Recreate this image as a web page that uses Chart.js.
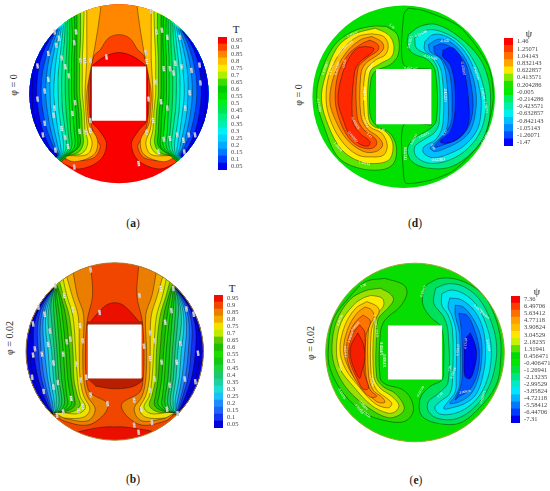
<!DOCTYPE html>
<html>
<head>
<meta charset="utf-8">
<style>
  body { margin: 0; background: #fff; width: 550px; height: 491px; position: relative; overflow: hidden; font-family: 'Liberation Serif', serif; color: #222; }
  canvas { position: absolute; }
  .txt { position: absolute; white-space: nowrap; transform: translate(-50%, -50%); }
  .phi { font-size: 10px; transform: translate(-50%, -50%) rotate(-90deg); }
  .cap { font-size: 11.5px; }
  .ttl { font-size: 11px; }
</style>
<script src="https://cdn.jsdelivr.net/npm/chart.js@4"></script>
</head>
<body>
<canvas id="plotA"></canvas><canvas id="plotD"></canvas><canvas id="plotB"></canvas><canvas id="plotE"></canvas>
<canvas id="barA"></canvas><canvas id="barD"></canvas><canvas id="barB"></canvas><canvas id="barE"></canvas>
<div class="txt phi" style="left:13px;top:85px">φ = 0</div>
<div class="txt phi" style="left:298px;top:95px">φ = 0</div>
<div class="txt phi" style="left:9px;top:338px">φ = 0.02</div>
<div class="txt phi" style="left:310px;top:343px">φ = 0.02</div>
<div class="txt cap" style="left:133px;top:223px">(<b>a</b>)</div>
<div class="txt cap" style="left:415px;top:223px">(<b>d</b>)</div>
<div class="txt cap" style="left:133px;top:479px">(<b>b</b>)</div>
<div class="txt cap" style="left:416px;top:480px">(<b>e</b>)</div>
<div class="txt ttl" style="left:236px;top:29px">T</div>
<div class="txt ttl" style="left:529px;top:33px;font-size:10px">ψ</div>
<div class="txt ttl" style="left:232px;top:288px">T</div>
<div class="txt ttl" style="left:537px;top:291px;font-size:10px">ψ</div>
<script>
// contour coordinates: disc radius = 100, centre = 0, y up
const ticksT = ['0.95','0.9','0.85','0.8','0.75','0.7','0.65','0.6','0.55','0.5','0.45','0.4','0.35','0.3','0.25','0.2','0.15','0.1','0.05'];
const ticksD = ['1.46','1.25071','1.04143','0.832143','0.622857','0.413571','0.204286','-0.005','-0.214286','-0.423571','-0.632857','-0.842143','-1.05143','-1.26071','-1.47'];
const ticksE = ['7.36','6.49706','5.63412','4.77118','3.90824','3.04529','2.18235','1.31941','0.456471','-0.406471','-1.26941','-2.13235','-2.99529','-3.85824','-4.72118','-5.58412','-6.44706','-7.31'];

const colorsA = ['rgb(250,0,0)','rgb(255,65,0)','rgb(255,135,0)','rgb(255,190,0)','rgb(250,235,0)','rgb(170,240,0)','rgb(60,220,0)','rgb(0,205,0)','rgb(0,225,0)','rgb(0,240,30)','rgb(0,230,80)','rgb(0,240,130)','rgb(0,240,180)','rgb(0,240,240)','rgb(0,210,255)','rgb(0,170,255)','rgb(0,120,255)','rgb(0,60,255)','rgb(0,0,235)'];
const colorsB = ['rgb(235,15,0)','rgb(240,70,0)','rgb(235,125,0)','rgb(240,170,0)','rgb(240,225,0)','rgb(190,235,0)','rgb(90,200,0)','rgb(30,190,0)','rgb(30,220,0)','rgb(20,200,20)','rgb(30,210,60)','rgb(30,200,110)','rgb(30,210,160)','rgb(30,220,210)','rgb(30,190,250)','rgb(30,140,250)','rgb(30,100,250)','rgb(20,50,240)','rgb(0,0,220)'];
const colorsD = ['rgb(255,0,0)','rgb(255,55,0)','rgb(255,110,0)','rgb(255,165,0)','rgb(255,230,0)','rgb(130,235,0)','rgb(30,225,0)','rgb(0,235,0)','rgb(0,240,100)','rgb(0,240,170)','rgb(0,240,240)','rgb(0,190,255)','rgb(0,140,255)','rgb(0,80,255)','rgb(0,0,255)'];
const colorsE = ['rgb(250,0,0)','rgb(255,60,0)','rgb(255,110,0)','rgb(255,160,0)','rgb(255,190,0)','rgb(255,230,0)','rgb(200,240,0)','rgb(90,225,0)','rgb(0,220,0)','rgb(0,230,0)','rgb(0,225,60)','rgb(0,230,130)','rgb(0,235,200)','rgb(0,230,255)','rgb(0,180,255)','rgb(0,120,255)','rgb(0,60,255)','rgb(0,0,240)'];

const lobeFillD = ['rgb(90,230,0)','rgb(255,235,0)','rgb(255,190,0)','rgb(255,135,0)','rgb(255,80,0)','rgb(255,40,0)'];
const cellFillD = ['rgb(0,235,130)','rgb(0,240,225)','rgb(0,190,255)','rgb(0,140,255)','rgb(0,85,255)','rgb(0,25,255)'];
const lobeFillE = ['rgb(50,215,0)','rgb(150,225,0)','rgb(250,235,0)','rgb(255,195,0)','rgb(255,155,0)','rgb(255,115,0)','rgb(255,70,0)','rgb(245,30,0)'];
const cellFillE = ['rgb(0,225,90)','rgb(0,230,170)','rgb(0,235,240)','rgb(0,190,255)','rgb(0,140,255)','rgb(0,85,255)','rgb(0,10,240)'];

// panel a, arches run from lower corner up to the apex, isolines are the left side
const archA95 = [[-70,-71],[-62,-78],[-44,-84],[-21,-74],[-14,-56],[-22,-41],[-31,-30],[-32,0],[-31,29],[-28,33],[-15,42],[0,46]];
const archA90 = [[-70,-70],[-53,-74],[-29,-72],[-21,-59],[-27,-48],[-32,-30],[-34,0],[-33,20],[-28,42],[-21,49],[-12,62],[0,66]];
const isoA85 = [[-20,99],[-24,70],[-29,41],[-33,20],[-36,0],[-35,-20],[-33,-35],[-24,-52],[-28,-68],[-50,-76],[-69,-71]];
const isoA80 = [[-36,94],[-36,60],[-36,40],[-37,20],[-38,0],[-37,-20],[-35,-40],[-30,-55],[-36,-68],[-66,-72]];
const isoA75 = [[-39,92],[-40,60],[-41,40],[-41,20],[-41,0],[-39,-20],[-38,-40],[-35,-56],[-42,-67],[-64,-71]];
const isoA70 = [[-43,90],[-43,60],[-44,40],[-44,20],[-44,0],[-42,-20],[-41,-40],[-40,-56],[-46,-66],[-62,-71]];
const isoA65 = [[-47,88],[-47,60],[-47,40],[-47,20],[-47,0],[-45,-20],[-44,-42],[-44,-58],[-58,-70]];
const isoA60 = [[-50,87],[-49,60],[-50,40],[-50,20],[-50,0],[-48,-20],[-47,-42],[-47,-60],[-60,-70]];
const isoA55 = [[-53,85],[-52,58],[-53,40],[-53,20],[-53,0],[-52,-20],[-50,-42],[-50,-60],[-61,-70]];
const isoA50 = [[-55,83],[-55,58],[-56,40],[-56,20],[-56,0],[-55,-20],[-54,-42],[-53,-60],[-62,-70]];
const isoA45 = [[-58,81],[-58,58],[-59,40],[-60,20],[-60,0],[-59,-20],[-57,-42],[-56,-60],[-63,-70]];
const isoA40 = [[-60,79],[-61,58],[-63,40],[-64,20],[-64,0],[-63,-20],[-60,-42],[-59,-60],[-64,-70]];
const isoA35 = [[-62,77],[-64,58],[-66,40],[-68,20],[-68,0],[-67,-20],[-64,-42],[-62,-60],[-65,-70]];
const isoA30 = [[-64,75],[-67,58],[-70,40],[-72,20],[-73,0],[-71,-20],[-68,-42],[-65,-60],[-66,-70]];
const isoA25 = [[-66,73],[-70,58],[-74,40],[-77,20],[-77,0],[-76,-20],[-72,-42],[-68,-60],[-67,-70]];
const isoA20 = [[-68,72],[-73,58],[-78,40],[-81,20],[-82,0],[-80,-20],[-76,-42],[-71,-60],[-68,-70]];
const isoA15 = [[-70,71],[-76,58],[-82,40],[-86,20],[-87,0],[-85,-20],[-80,-42],[-73,-60],[-69,-70]];
const isoA10 = [[-71,70],[-79,58],[-87,40],[-91,20],[-92,0],[-90,-20],[-85,-42],[-77,-60],[-70,-70]];
const isoA05 = [[-71,70],[-82,58],[-92,40],[-96,20],[-97,0],[-96,-20],[-90,-42],[-80,-60],[-70,-70]];
const isoListA = [isoA85,isoA80,isoA75,isoA70,isoA65,isoA60,isoA55,isoA50,isoA45,isoA40,isoA35,isoA30,isoA25,isoA20,isoA15,isoA10,isoA05];

// panel b
const lensB = [[-47,-92],[-25,-87],[-10,-85],[0,-85]];
const domeB = [[-31,29],[-22,40],[-10,52],[0,55],[10,52],[22,40],[31,29]];
const darkTopB = [[-38,34],[38,34],[31,29],[-31,29]];
const darkBottomB = [[-32,-30],[32,-30],[22,-39],[0,-42],[-22,-39]];
const isoB90 = [[-27,96],[-25,63],[-31,35],[-33,0],[-32,-31],[-28,-46],[-8,-59],[-13,-72],[-31,-83],[-58,-78],[-70,-71]];
const isoB85 = [[-47,90],[-42,63],[-35,41],[-36,-1],[-35,-31],[-31,-50],[-22,-65],[-30,-78],[-54,-76],[-69,-71]];
const isoB80 = [[-54,84],[-48,63],[-41,39],[-40,-1],[-39,-31],[-35,-50],[-28,-65],[-35,-74],[-56,-75],[-70,-71]];
const isoB75 = [[-58,81],[-54,63],[-47,39],[-44,-1],[-42,-31],[-39,-50],[-33,-63],[-41,-70],[-70,-71]];
const isoB70 = [[-62,78],[-58,63],[-51,39],[-47,-1],[-46,-31],[-42,-50],[-39,-61],[-48,-68],[-70,-71]];
const isoB65 = [[-65,75],[-61,63],[-55,39],[-51,-1],[-49,-31],[-46,-50],[-45,-61],[-54,-67],[-71,-70]];
const isoB60 = [[-66,74],[-63,63],[-59,39],[-55,-1],[-53,-31],[-50,-50],[-49,-60],[-58,-67],[-71,-70]];
const isoB55 = [[-66,74],[-65,60],[-62,39],[-58,0],[-56,-31],[-54,-50],[-53,-60],[-60,-67],[-71,-70]];
const isoB50 = [[-67,73],[-67,58],[-65,39],[-62,0],[-60,-31],[-57,-50],[-57,-60],[-62,-67],[-71,-70]];
const isoB45 = [[-67,73],[-69,55],[-68,36],[-65,0],[-63,-31],[-60,-50],[-60,-60],[-64,-67],[-71,-70]];
const isoB40 = [[-68,73],[-72,52],[-71,33],[-68,0],[-66,-31],[-63,-50],[-63,-60],[-66,-67],[-71,-70]];
const isoB35 = [[-68,73],[-74,50],[-75,30],[-71,0],[-69,-31],[-66,-50],[-66,-60],[-67,-67],[-71,-70]];
const isoB30 = [[-68,73],[-76,50],[-78,28],[-75,0],[-73,-28],[-69,-50],[-68,-60],[-69,-68],[-71,-70]];
const isoB25 = [[-68,73],[-78,50],[-81,28],[-79,0],[-76,-28],[-72,-50],[-70,-60],[-71,-70]];
const isoB20 = [[-68,73],[-80,50],[-84,28],[-83,0],[-80,-28],[-75,-50],[-72,-62],[-71,-70]];
const isoB15 = [[-68,73],[-82,50],[-87,28],[-86,0],[-83,-28],[-77,-50],[-73,-63],[-71,-70]];
const isoB10 = [[-68,73],[-84,50],[-91,28],[-91,0],[-87,-28],[-80,-50],[-74,-64],[-71,-70]];
const isoB05 = [[-68,73],[-85,50],[-94,28],[-96,0],[-92,-28],[-84,-50],[-76,-65],[-71,-70]];
const isoListB = [isoB85,isoB80,isoB75,isoB70,isoB65,isoB60,isoB55,isoB50,isoB45,isoB40,isoB35,isoB30,isoB25,isoB20,isoB15,isoB10,isoB05];

// panel d, closed stream lines, left cell
const psiD1 = [[-19,77],[-7,68],[-6,46],[-15,35],[-31,28],[-36,18],[-37,-18],[-31,-31],[-15,-40],[-8,-55],[-11,-73],[-24,-80],[-50,-78],[-72,-66],[-86,-36],[-95,-4],[-92,22],[-77,55],[-57,71],[-35,77]];
const psiD2 = [[-31,75],[-17,68],[-11,57],[-13,44],[-26,36],[-37,27],[-39,-18],[-35,-31],[-20,-38],[-12,-51],[-15,-68],[-28,-73],[-48,-71],[-68,-58],[-82,-33],[-90,-4],[-86,22],[-72,55],[-53,69]];
const psiD3 = [[-35,69],[-22,66],[-17,57],[-20,46],[-31,40],[-42,27],[-43,-20],[-37,-33],[-24,-40],[-18,-53],[-22,-64],[-35,-66],[-50,-64],[-66,-51],[-79,-29],[-85,-4],[-81,26],[-66,53],[-50,66]];
const psiD4 = [[-35,66],[-24,60],[-22,53],[-28,46],[-42,36],[-47,24],[-47,-20],[-40,-35],[-28,-44],[-23,-53],[-30,-60],[-44,-60],[-62,-47],[-75,-25],[-81,-4],[-76,24],[-64,47],[-48,62]];
const psiD5 = [[-37,62],[-28,57],[-28,51],[-39,43],[-50,31],[-51,-22],[-44,-36],[-31,-46],[-30,-53],[-37,-57],[-50,-54],[-61,-44],[-70,-26],[-75,-4],[-72,24],[-61,46],[-46,58]];
const psiD6 = [[-42,55],[-33,53],[-35,48],[-48,38],[-54,26],[-56,-26],[-48,-40],[-37,-49],[-39,-54],[-48,-52],[-59,-42],[-66,-26],[-72,-4],[-68,22],[-60,42],[-51,53]];
const psiListD = [psiD1,psiD2,psiD3,psiD4,psiD5,psiD6];
// panel d, right cell
const cellD1 = [[5,68],[18,77],[36,79],[60,66],[82,44],[93,18],[95,-11],[90,-40],[74,-62],[51,-77],[25,-78],[9,-71],[4,-58],[11,-46],[29,-35],[36,-25],[35,26],[27,40],[9,48],[4,58]];
const cellD2 = [[12,64],[25,73],[42,71],[62,59],[78,37],[87,13],[90,-11],[85,-36],[71,-56],[51,-69],[29,-73],[14,-66],[12,-55],[22,-47],[34,-39],[39,-27],[38,27],[29,44],[14,53]];
const cellD3 = [[23,60],[32,68],[47,66],[64,53],[76,33],[83,9],[85,-11],[81,-35],[67,-53],[51,-62],[33,-67],[22,-62],[22,-55],[36,-46],[43,-29],[42,24],[34,42],[23,51]];
const cellD4 = [[27,57],[38,63],[51,60],[65,46],[74,27],[79,6],[79,-14],[74,-35],[64,-47],[47,-56],[34,-60],[29,-56],[36,-49],[45,-40],[49,-22],[46,26],[40,42],[29,49]];
const cellD5 = [[33,55],[43,58],[56,51],[67,38],[73,17],[76,-11],[71,-33],[60,-46],[43,-53],[34,-55],[40,-46],[51,-31],[53,-14],[51,22],[43,40],[34,48]];
const cellD6 = [[43,51],[53,54],[62,44],[67,26],[71,-4],[71,-29],[62,-44],[47,-51],[40,-49],[51,-38],[56,-18],[56,13],[51,35],[43,44]];
const cellListD = [cellD1,cellD2,cellD3,cellD4,cellD5,cellD6];
const zeroLineD1 = [[5,97],[23,94],[62,76],[93,33],[98,-4],[87,-46],[56,-80],[31,-91],[3,-95],[0,-87],[0,-31],[31,-31]];
const zeroLineD2 = [[5,97],[0,90],[0,35],[31,30]];

// panel e, left cell
const psiE1 = [[-34,83],[-13,76],[-9,66],[-17,51],[-34,36],[-39,20],[-39,-29],[-32,-36],[-15,-41],[-5,-51],[-2,-66],[-11,-77],[-30,-77],[-56,-68],[-80,-46],[-95,-18],[-97,5],[-91,38],[-75,60],[-56,79]];
const psiE2 = [[-39,72],[-28,66],[-24,59],[-30,50],[-41,38],[-43,22],[-43,-27],[-36,-38],[-22,-46],[-12,-61],[-16,-69],[-30,-73],[-52,-62],[-75,-42],[-89,-18],[-93,5],[-88,35],[-73,59],[-56,69]];
const psiE3 = [[-49,64],[-37,61],[-35,53],[-41,44],[-46,27],[-46,-27],[-39,-40],[-26,-49],[-18,-59],[-22,-66],[-30,-68],[-49,-59],[-69,-38],[-84,-18],[-88,5],[-83,33],[-69,53],[-58,61]];
const psiE4 = [[-54,57],[-43,52],[-40,46],[-45,36],[-49,23],[-49,-25],[-43,-42],[-32,-51],[-26,-57],[-30,-62],[-45,-57],[-63,-38],[-78,-18],[-84,3],[-79,29],[-67,49]];
const psiE5 = [[-56,51],[-49,48],[-46,40],[-52,27],[-52,-25],[-47,-42],[-36,-51],[-34,-56],[-43,-55],[-60,-38],[-74,-18],[-80,3],[-75,27],[-65,44]];
const psiE6 = [[-58,42],[-50,35],[-55,18],[-55,-25],[-50,-42],[-43,-49],[-50,-50],[-62,-38],[-73,-18],[-77,3],[-72,25],[-65,36]];
const psiE7 = [[-62,31],[-56,22],[-57,-21],[-52,-40],[-58,-41],[-65,-29],[-73,-10],[-74,5],[-69,22]];
const psiE8 = [[-64,22],[-58,10],[-56,-6],[-60,-23],[-62,-29],[-67,-21],[-72,-6],[-72,7]];
const psiListE = [psiE1,psiE2,psiE3,psiE4,psiE5,psiE6,psiE7,psiE8];
// panel e, right cell
const cellE1 = [[13,76],[28,83],[50,81],[73,68],[86,49],[95,20],[96,-6],[91,-36],[72,-62],[50,-79],[24,-79],[7,-70],[6,-51],[17,-38],[30,-31],[32,-21],[30,27],[17,40],[9,53],[9,66]];
const cellE2 = [[23,72],[37,77],[54,74],[71,61],[84,38],[91,12],[90,-14],[82,-40],[67,-61],[47,-74],[26,-74],[15,-66],[15,-55],[26,-46],[37,-33],[37,23],[32,40],[21,55]];
const cellE3 = [[30,66],[41,70],[56,65],[69,53],[79,33],[85,10],[84,-18],[76,-42],[62,-59],[45,-68],[28,-69],[22,-62],[28,-55],[39,-46],[42,-29],[42,25],[37,42],[30,53]];
const cellE4 = [[39,61],[52,59],[67,46],[76,27],[79,3],[77,-21],[69,-46],[56,-57],[41,-62],[32,-63],[37,-55],[45,-44],[46,-25],[46,23],[41,42],[37,51]];
const cellE5 = [[45,53],[54,51],[65,38],[73,20],[75,1],[72,-25],[63,-46],[50,-55],[39,-57],[45,-49],[50,-36],[50,20],[45,42]];
const cellE6 = [[49,44],[58,42],[66,27],[72,3],[70,-23],[61,-42],[50,-49],[45,-53],[50,-42],[53,-25],[52,23]];
const cellE7 = [[62,22],[67,10],[69,-1],[67,-16],[62,-29],[56,-27],[55,-6],[56,14]];
const cellListE = [cellE1,cellE2,cellE3,cellE4,cellE5,cellE6,cellE7];

// inline contour labels: x, y, angle
const notesA = [[-72,69],[-67,62],[-70,54],[-79,45],[-91,31],[-79,16],[-83,3],[-91,-6],[-72,-16],[-73,-24],[-83,-33],[-85,-46],[-71,-63],[-64,-39],[-60,-49],[-57,-59],[-64,40],[-60,30],[-56,20],[-50,57],[-48,69],[-43,37],[-38,37],[-32,37],[-14,41],[-49,-10],[-52,-22],[-32,-30],[-44,-42],[-37,-43],[-32,-41],[-50,-82],[22,-78],[31,-43],[38,-30],[33,-6],[47,-9],[54,-16],[41,13],[50,28],[57,28],[63,34],[70,30],[61,23],[81,26],[90,32],[91,12],[79,1],[74,-16],[85,-46],[78,-46],[72,-52],[65,-46],[57,-50],[50,-51],[44,-65],[73,-65],[30,46],[31,36],[36,92],[42,69],[48,71],[54,63],[68,63]];
const notesB = [[-67,74],[-57,63],[-27,92],[-47,47],[-17,44],[-39,29],[-36,12],[-50,14],[-54,11],[-79,42],[-86,50],[-92,31],[-73,23],[-75,8],[-90,3],[-92,-4],[-82,-3],[-69,-13],[-58,-3],[-43,-14],[-93,-29],[-80,-45],[-69,-40],[-64,-35],[-49,-53],[-38,-32],[-32,-29],[-27,-49],[-36,-62],[-41,-67],[-8,-59],[-58,-68],[-65,-72],[28,63],[52,71],[66,71],[57,33],[64,46],[40,21],[33,6],[45,12],[40,-8],[53,-12],[70,-12],[74,9],[94,-2],[81,48],[89,42],[91,-34],[79,-31],[62,-38],[45,-31],[40,-44],[30,-65],[42,-80],[59,-65],[71,-70],[22,-83],[27,-91],[22,-55]];
const notesD = [[-13,77,40],[-56,68,-20],[-61,57,-40],[-68,50,-50],[-86,31,-70],[-79,31,-75],[-73,31,-75],[-65,36,-80],[-93,-9,80],[-53,-29,60],[-56,-44,50],[-44,4,90],[-37,31,-60],[-42,-27,70],[-38,-42,50],[-24,-36,15],[-72,-55,50],[-43,-73,10],[8,31,5],[65,77,35],[7,60,-75],[19,69,-25],[45,61,0],[29,43,15],[45,2,90],[65,31,80],[79,26,70],[87,4,80],[90,-11,85],[45,-40,-50],[32,-55,65],[22,-42,-25],[11,-47,-60],[1,-62,90],[38,-69,0],[89,-45,-60]];
const notesE = [[-58,75,-25],[-84,36,-70],[-78,1,85],[-84,-14,85],[-72,17,-70],[-67,29,-50],[-45,36,80],[-43,23,85],[-38,4,90],[-35,-9,90],[-48,-31,80],[-82,-46,60],[-63,-63,50],[-58,-59,50],[-56,-68,40],[9,68,-70],[6,-44,-60],[28,-48,-50],[39,-18,-80],[43,-23,-70],[48,3,-85],[57,10,-85],[56,-44,-10],[82,8,80],[71,49,40],[78,42,40],[76,-50,-70]];

const squareHalf = 30.3;
const FAR = 150;

function mirror(pts) { return pts.map(p => [-p[0], p[1]]); }
function toXY(pts) { return pts.map(p => ({ x: p[0], y: p[1] })); }

function poly(pts, color, opts) {
  return Object.assign({
    data: toXY(pts), showLine: true, pointRadius: 0, fill: 'shape',
    backgroundColor: color, borderColor: 'rgba(0,0,0,0.7)', borderWidth: 0.55, tension: 0.35
  }, opts || {});
}
function flat(pts, color) { return poly(pts, color, { tension: 0, borderWidth: 0 }); }
function stroke(pts) { return poly(pts, 'transparent', { fill: false, tension: 0.25 }); }

function wholeDisc(color) { return flat([[-FAR,-FAR],[FAR,-FAR],[FAR,FAR],[-FAR,FAR]], color); }
function hole() { return flat([[-squareHalf,-squareHalf],[squareHalf,-squareHalf],[squareHalf,squareHalf],[-squareHalf,squareHalf]], '#fff'); }
function leftRegion(pts, color) { return poly(pts.concat([[-FAR,-FAR],[-FAR,FAR]]), color); }
function rightRegion(pts, color) { return poly(mirror(pts).concat([[FAR,-FAR],[FAR,FAR]]), color); }
function archRegion(pts, color) {
  const all = pts.concat(mirror(pts).reverse().slice(1));
  return poly(all.concat([[FAR,-FAR],[FAR,FAR],[-FAR,FAR],[-FAR,-FAR]]), color);
}
function closed(pts, color) { return poly(pts.concat([pts[0]]), color); }

// keeps the contours inside the disc and prints the inline labels
const discPlugin = {
  id: 'disc',
  beforeDatasetsDraw(chart) {
    const c = chart.ctx, s = chart.scales;
    const px = s.x.getPixelForValue(0), py = s.y.getPixelForValue(0);
    const r = s.x.getPixelForValue(100) - px;
    c.save();
    c.beginPath();
    c.arc(px, py, r, 0, Math.PI * 2);
    c.clip();
  },
  afterDatasetsDraw(chart, args, o) {
    const c = chart.ctx, s = chart.scales;
    c.restore();
    const px = s.x.getPixelForValue(0), py = s.y.getPixelForValue(0);
    const r = s.x.getPixelForValue(100) - px;
    if (o.rim) {
      c.beginPath();
      c.arc(px, py, r, 0, Math.PI * 2);
      c.strokeStyle = o.rim;
      c.lineWidth = 1;
      c.stroke();
    }
    o.notes.forEach((n, i) => {
      c.save();
      c.translate(s.x.getPixelForValue(n[0]), s.y.getPixelForValue(n[1]));
      c.rotate((n.length > 2 ? n[2] : 82) * Math.PI / 180);
      c.textAlign = 'center';
      c.textBaseline = 'middle';
      const t = o.texts[i % o.texts.length];
      if (o.boxed) {
        c.fillStyle = 'rgba(240,238,240,0.9)';
        c.fillRect(-2.6, -1.2, 5.2, 2.4);
        c.fillStyle = '#777';
        c.font = "2.4px 'Liberation Sans'";
      } else {
        c.fillStyle = '#fff';
        c.font = "3.2px 'Liberation Sans'";
      }
      c.fillText(t, 0, 0);
      c.restore();
    });
  }
};

function drawPlot(id, cx, cy, R, sets, notes, texts, boxed, rim) {
  const left = Math.floor(cx - R - 3), top = Math.floor(cy - R - 3);
  const size = Math.ceil(2 * R + 7);
  const cv = document.getElementById(id);
  cv.width = size; cv.height = size;
  cv.style.left = left + 'px'; cv.style.top = top + 'px';
  sets.forEach((d, i) => { d.order = sets.length - i; });
  new Chart(cv, {
    type: 'scatter',
    data: { datasets: sets },
    plugins: [discPlugin],
    options: {
      responsive: false, animation: false, events: [],
      layout: { padding: 0 },
      scales: {
        x: { display: false, min: (left - cx) / R * 100, max: (left + size - cx) / R * 100 },
        y: { display: false, min: (cy - top - size) / R * 100, max: (cy - top) / R * 100 }
      },
      plugins: { legend: { display: false }, tooltip: { enabled: false }, disc: { notes, texts, boxed, rim } }
    }
  });
}

function drawBar(id, left, top, barW, barH, ticks, colors) {
  const cv = document.getElementById(id);
  const total = barW + 40;
  cv.width = total; cv.height = barH;
  cv.style.left = left + 'px'; cv.style.top = top + 'px';
  new Chart(cv, {
    type: 'bar',
    data: { labels: ticks, datasets: [{ data: ticks.map(() => 1), backgroundColor: colors, barPercentage: 1, categoryPercentage: 1 }] },
    options: {
      indexAxis: 'y', responsive: false, animation: false, events: [],
      layout: { padding: 0 },
      scales: {
        x: { display: false, min: 0, max: 1 },
        y: {
          position: 'right', grid: { display: false, drawTicks: false }, border: { display: false },
          afterFit(s) { s.width = total - barW; s.paddingTop = 0; s.paddingBottom = 0; },
          ticks: { autoSkip: false, padding: 4, color: '#444', font: { family: 'Liberation Serif', size: 6.5 } }
        }
      },
      plugins: { legend: { display: false }, tooltip: { enabled: false } }
    }
  });
}

const setsA = [wholeDisc(colorsA[0]), archRegion(archA95, colorsA[1]), archRegion(archA90, colorsA[2])];
isoListA.forEach((iso, i) => {
  const col = colorsA[Math.min(i + 3, 18)];
  setsA.push(leftRegion(iso, col), rightRegion(iso, col));
});
setsA.push(hole());

const setsB = [wholeDisc(colorsB[0]), archRegion(lensB, colorsB[1]), poly(domeB, colorsB[0]), flat(darkTopB, 'rgb(185,30,0)'), poly(darkBottomB, 'rgb(185,30,0)'),
  leftRegion(isoB90, colorsB[2]), rightRegion(isoB90, colorsB[2])];
isoListB.forEach((iso, i) => {
  const col = colorsB[Math.min(i + 3, 18)];
  setsB.push(leftRegion(iso, col), rightRegion(iso, col));
});
setsB.push(hole());

const setsD = [wholeDisc('rgb(0,225,0)')];
psiListD.forEach((c, i) => setsD.push(closed(c, lobeFillD[i])));
cellListD.forEach((c, i) => setsD.push(closed(c, cellFillD[i])));
setsD.push(stroke(zeroLineD1), stroke(zeroLineD2), hole());

const setsE = [wholeDisc('rgb(5,222,0)')];
psiListE.forEach((c, i) => setsE.push(closed(c, lobeFillE[i])));
cellListE.forEach((c, i) => setsE.push(closed(c, cellFillE[i])));
setsE.push(hole());

drawPlot('plotA', 119, 93.7, 89.5, setsA, notesA, ticksT, true);
drawPlot('plotD', 403.7, 96.7, 91.3, setsD, notesD, ticksD, false);
drawPlot('plotB', 114.7, 351.5, 88.7, setsB, notesB, ticksT, true, 'rgb(170,130,40)');
drawPlot('plotE', 415, 352.5, 89.3, setsE, notesE, ticksE, false, 'rgb(150,170,40)');

drawBar('barA', 218, 37, 9, 133, ticksT, colorsA);
drawBar('barD', 504, 38, 9, 108, ticksD, colorsD);
drawBar('barB', 214, 295, 9, 133, ticksT, colorsB);
drawBar('barE', 511, 296, 9, 127, ticksE, colorsE);
</script>
</body>
</html>
